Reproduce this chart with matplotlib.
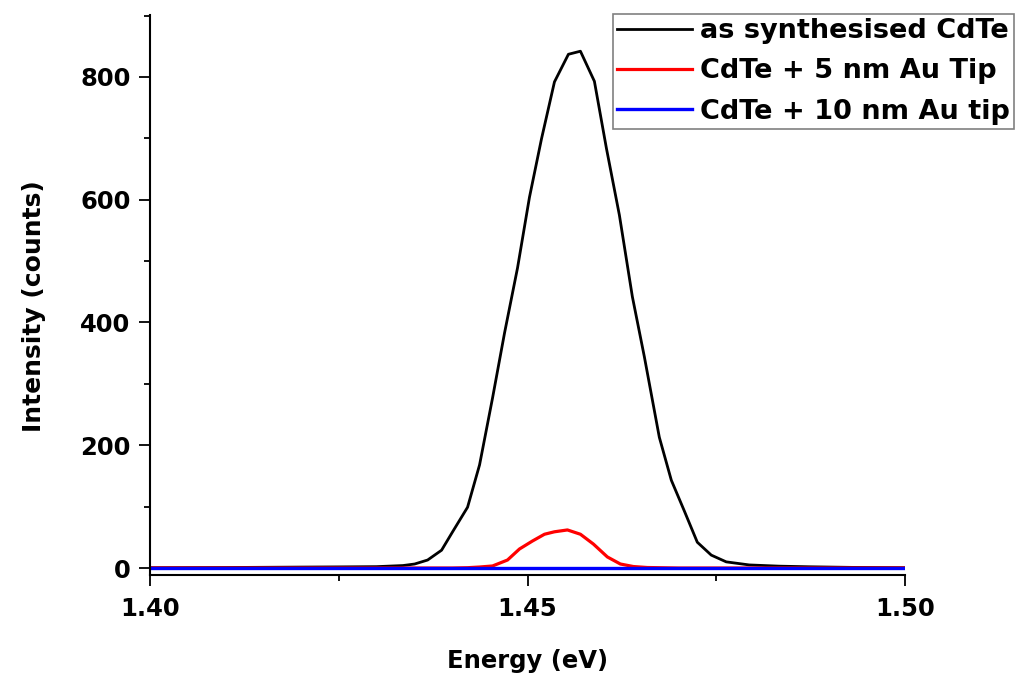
import numpy as np
import matplotlib
matplotlib.use("Agg")
import matplotlib.pyplot as plt
from matplotlib.ticker import MultipleLocator

plt.rcParams['font.family'] = ['DejaVu Sans']
plt.rcParams['font.weight'] = 'bold'

# as synthesised CdTe (energy in eV, counts)
e_black = [1.400, 1.410, 1.420, 1.425, 1.430, 1.4335, 1.43505, 1.43677, 1.43862,
           1.44008, 1.44206, 1.44365, 1.44537, 1.44696, 1.44868, 1.45026, 1.45185,
           1.45357, 1.45542, 1.45701, 1.45886, 1.46045, 1.46217, 1.46389, 1.46548,
           1.46746, 1.46905, 1.47077, 1.47249, 1.47434, 1.47632, 1.47937, 1.48333,
           1.48730, 1.4930, 1.500]
i_black = [0.5, 0.8, 1.5, 1.8, 2.2, 4, 6.5, 13, 29,
           59, 99, 168, 277, 383, 489, 604, 699,
           792, 837, 842, 793, 684, 575, 442, 344,
           213, 143, 93, 42, 21, 10, 5, 3,
           2, 1, 0.5]

# CdTe + 5 nm Au tip
e_red = [1.400, 1.4400, 1.44206, 1.44365, 1.44537, 1.44735, 1.44894, 1.45066, 1.45225,
         1.45357, 1.45529, 1.45701, 1.45873, 1.46058, 1.46230, 1.46402, 1.46587, 1.470, 1.500]
i_red = [0, 0, 0.5, 1.6, 3.3, 13, 31, 44, 55,
         59, 62, 55, 39, 18, 6.5, 2.4, 0.8, 0, 0]

# CdTe + 10 nm Au tip
e_blue = [1.400, 1.450, 1.500]
i_blue = [0, 0, 0]

fig = plt.figure(figsize=(10.15, 6.78), dpi=100)
ax = fig.add_axes([150/1015, 1-575/678, 755/1015, 560/678])

ax.plot(e_black, i_black, color='black', lw=2.0, label='as synthesised CdTe')
ax.plot(e_red, i_red, color='red', lw=2.3, label='CdTe + 5 nm Au Tip')
ax.plot(e_blue, i_blue, color='blue', lw=2.4, label='CdTe + 10 nm Au tip')

ax.set_xlim(1.40, 1.50)
ax.set_ylim(-11.4, 901)
ax.xaxis.set_major_locator(MultipleLocator(0.05))
ax.xaxis.set_minor_locator(MultipleLocator(0.025))
ax.yaxis.set_major_locator(MultipleLocator(200))
ax.yaxis.set_minor_locator(MultipleLocator(100))
ax.xaxis.set_major_formatter(plt.FuncFormatter(lambda v, p: '%.2f' % v))

for s in ['top', 'right']:
    ax.spines[s].set_visible(False)
for s in ['left', 'bottom']:
    ax.spines[s].set_linewidth(1.5)

ax.tick_params(which='major', direction='out', length=8, width=1.3, labelsize=17.5, pad=6)
ax.tick_params(axis='x', which='major', pad=8)
ax.tick_params(which='minor', direction='out', length=4.5, width=1.3)

ax.set_xlabel('Energy (eV)', fontsize=17.5, fontweight='bold', labelpad=20)
ax.set_ylabel('Intensity (counts)', fontsize=18, fontweight='bold')
ax.yaxis.set_label_coords(-0.138, 0.48)

leg = ax.legend(loc='upper right', bbox_to_anchor=(1014/1015, 1-14/678),
                bbox_transform=fig.transFigure, borderaxespad=0,
                fontsize=19.5, fancybox=False, framealpha=1, edgecolor='gray',
                handlelength=2.75, handletextpad=0.3, labelspacing=0.53,
                borderpad=0.15)
leg.get_frame().set_linewidth(1.2)
for t in leg.get_texts():
    t.set_fontweight('bold')

fig.savefig('out.png', dpi=100)
